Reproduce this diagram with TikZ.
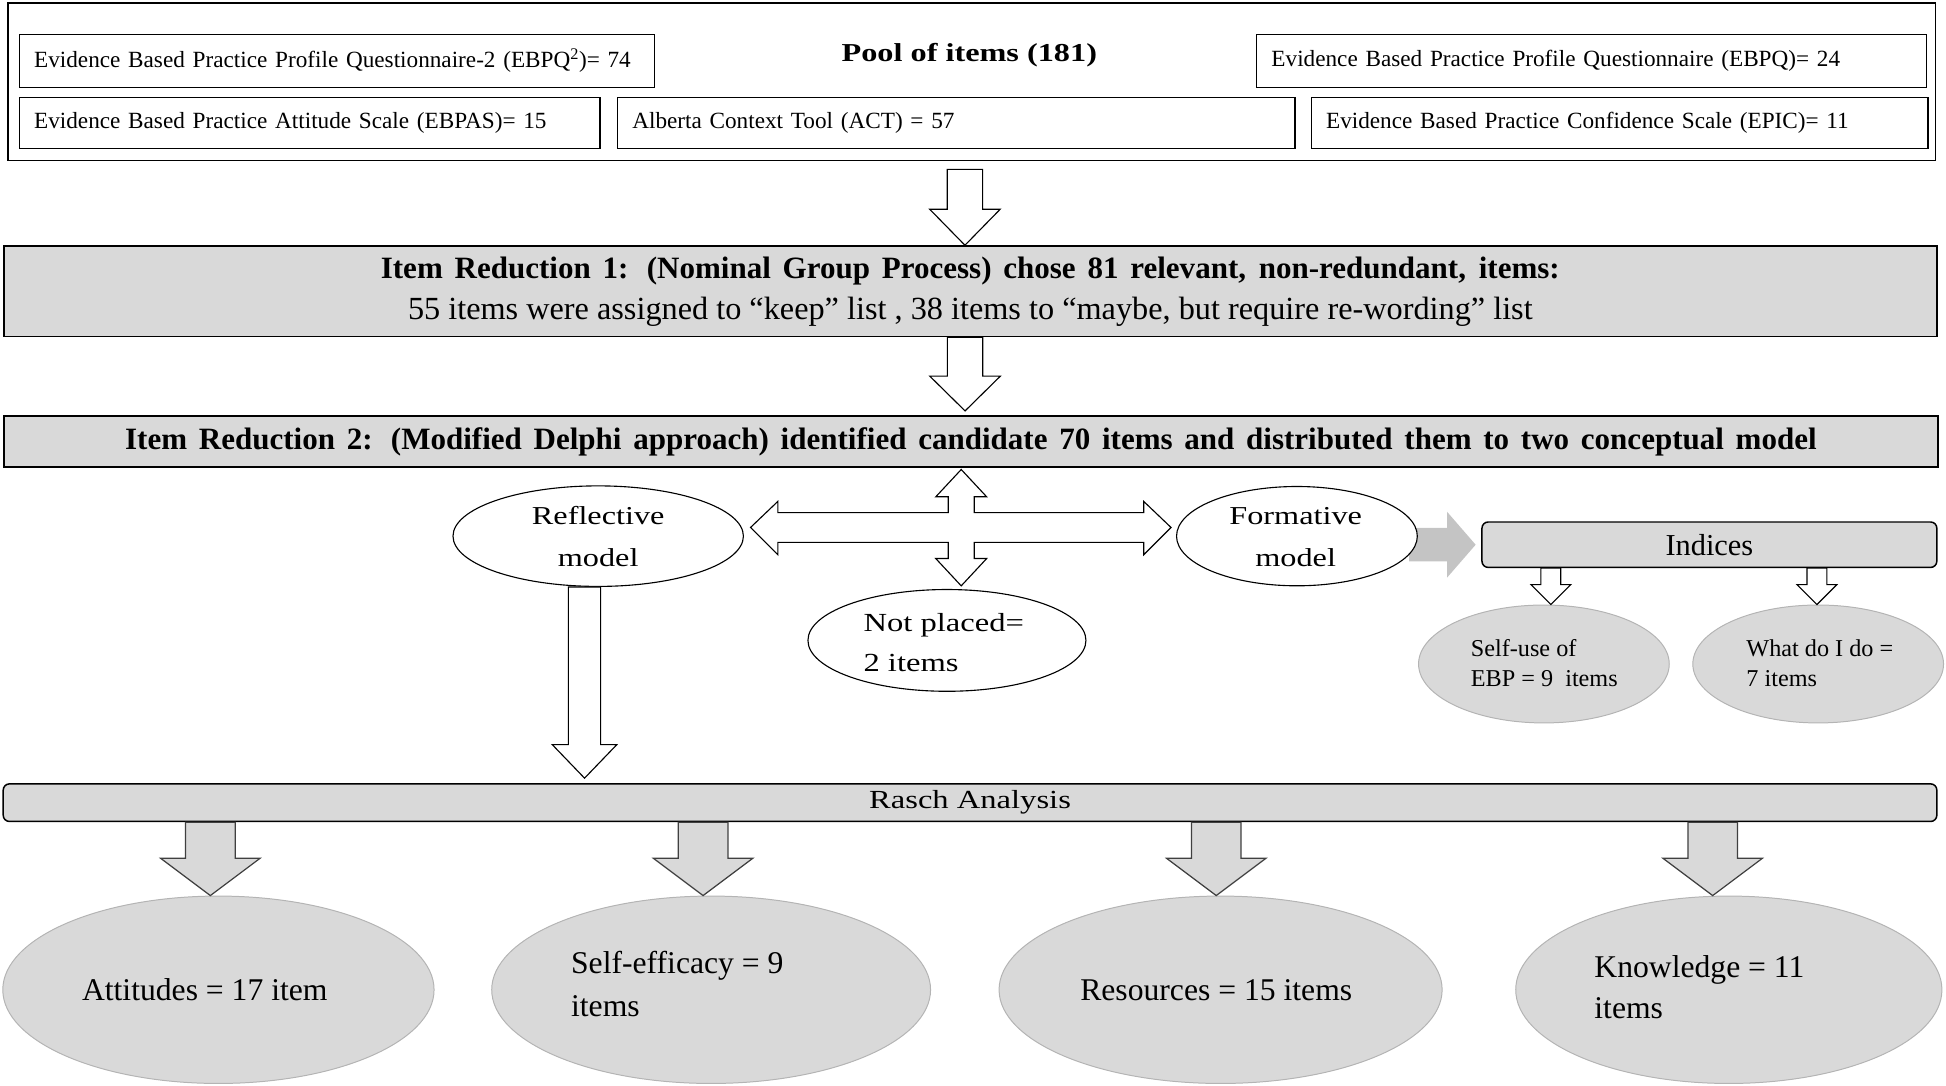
\documentclass[tikz,border=0pt]{standalone}
\usepackage{fontspec}
\setmainfont{Liberation Serif}
\newfontfamily\widefont{Liberation Serif}[FakeStretch=1.25]
\usetikzlibrary{calc,shapes.geometric,backgrounds}

\definecolor{boxgray}{HTML}{D9D9D9}
\definecolor{rimgray}{HTML}{B4B4B4}
\definecolor{arrowgray}{HTML}{C4C4C4}
\definecolor{edgegray}{HTML}{404040}

\newcommand{\fsz}[2]{\fontsize{#1}{#2}\selectfont}

% block arrow pointing down: style, top point, tip point, shaft half width, head half width, head depth
\newcommand{\downblock}[6]{%
  \draw[#1] let \p1=(#2), \p2=(#3) in
    (\x1-#4,\y1) -- (\x1+#4,\y1) -- (\x1+#4,\y2+#6) -- (\x1+#5,\y2+#6)
    -- (\x1,\y2) -- (\x1-#5,\y2+#6) -- (\x1-#4,\y2+#6) -- cycle;}

\tikzset{
  srcbox/.style={draw, line width=1pt, anchor=north west, align=left,
    inner xsep=12pt, inner ysep=0pt, font=\fsz{18.7}{21}},
  stagebox/.style={draw, line width=1.2pt, fill=boxgray, anchor=north west, inner sep=0pt},
  barbox/.style={stagebox, rounded corners=5pt},
  plainoval/.style={draw, fill=white, ellipse, line width=0.9pt, inner sep=0pt},
  grayoval/.style={draw=rimgray, fill=boxgray, ellipse, line width=0.8pt, inner sep=0pt},
  ovaltext/.style={inner sep=0pt, align=center},
  whitearrow/.style={draw, fill=white, line width=0.9pt},
  grayarrow/.style={draw=edgegray, fill=boxgray, line width=1pt},
}

\begin{document}
\begin{tikzpicture}[x=1pt, y=-1pt]
\useasboundingbox (0,0) rectangle (1568,875);

% pool of items
\node[draw, line width=1pt, anchor=north west, minimum width=1553pt, minimum height=127pt, inner sep=0pt] (pool) at (6,2) {};
\node[anchor=base, font=\widefont\bfseries\fsz{20.8}{24}] (pooltitle) at (781,49.7) {Pool of items (181)};
\node[srcbox, text width=488pt, minimum height=43pt] (ebpq2) at (15,27) {Evidence Based Practice Profile Questionnaire-2 (EBPQ\textsuperscript{2})= 74};
\node[srcbox, text width=516pt, minimum height=43pt] (ebpq) at (1012,27) {Evidence Based Practice Profile Questionnaire (EBPQ)= 24};
\node[srcbox, text width=444pt, minimum height=41pt] (ebpas) at (15,78) {Evidence Based Practice Attitude Scale (EBPAS)= 15};
\node[srcbox, text width=522pt, minimum height=41pt] (act) at (497,78) {Alberta Context Tool (ACT) = 57};
\node[srcbox, text width=473pt, minimum height=41pt] (epic) at (1056,78) {Evidence Based Practice Confidence Scale (EPIC)= 11};

% item reduction stages
\node[stagebox, minimum width=1557.5pt, minimum height=73pt, align=center, font=\fsz{26}{33}] (ir1) at (2.5,197.6)
  {{\bfseries\fontsize{25}{33}\selectfont\makebox[950pt][s]{Item Reduction 1: (Nominal Group Process) chose 81 relevant, non-redundant, items:}}\\
   55 items were assigned to “keep” list , 38 items to “maybe, but require re-wording” list};
\node[stagebox, minimum width=1558.5pt, minimum height=41pt, font=\bfseries\fsz{25}{28}] (ir2) at (2.5,334.6)
  {\makebox[1363pt][s]{Item Reduction 2: (Modified Delphi approach) identified candidate 70 items and distributed them to two conceptual model}};

\downblock{whitearrow}{$(pool.south)+(-5.5,6.5)$}{ir1.north}{14.25}{28.4}{29}
\downblock{whitearrow}{$(ir1.south)+(-4.25,0)$}{$(ir2.north)+(0,-3.5)$}{14.25}{28.4}{28}

% conceptual models
\node[plainoval, minimum width=234pt, minimum height=81pt] (refl) at (482,432) {};
\node[ovaltext, font=\widefont\fsz{20.8}{34}] (refl-t) at (482,432.5) {Reflective\\model};
\node[plainoval, minimum width=194pt, minimum height=80pt] (form) at (1045,432) {};
\node[ovaltext, font=\widefont\fsz{20.8}{34}] (form-t) at (1044,433) {Formative\\model};
\node[plainoval, minimum width=224pt, minimum height=82pt] (notp) at (763,516) {};
\node[ovaltext, anchor=west, align=left, font=\widefont\fsz{21}{32}] (notp-t) at (695.6,518) {Not placed=\\2 items};

\coordinate (cross) at (774.5,425);
\draw[whitearrow] let \p1=(refl.east), \p2=(form.west), \p3=(ir2.south), \p4=(notp.north), \p5=(cross) in
  (\x5,\y3-1.5) -- (\x5+20.5,\y3-23.5) -- (\x5+10.5,\y3-23.5) -- (\x5+10.5,\y5+12)
  -- (\x2-26,\y5+12) -- (\x2-26,\y5+21) -- (\x2-4,\y5) -- (\x2-26,\y5-22) -- (\x2-26,\y5-12)
  -- (\x5+10.5,\y5-12) -- (\x5+10.5,\y4+24.5) -- (\x5+20.5,\y4+24.5) -- (\x5,\y4+2.5)
  -- (\x5-20.5,\y4+24.5) -- (\x5-10.5,\y4+24.5) -- (\x5-10.5,\y5-12)
  -- (\x1+27.3,\y5-12) -- (\x1+27.3,\y5-22) -- (\x1+5.3,\y5) -- (\x1+27.3,\y5+21)
  -- (\x1+27.3,\y5+12) -- (\x5-10.5,\y5+12) -- (\x5-10.5,\y3-23.5) -- (\x5-20.5,\y3-23.5) -- cycle;

% formative indices
\node[barbox, minimum width=366.5pt, minimum height=36.6pt, font=\fsz{24.5}{28}] (indices) at (1193.5,420) {Indices};
\begin{scope}[on background layer]
  \fill[arrowgray] let \p1=(form.east), \p2=(indices.west) in
    (\x1-7,\y2+13.5) -- (\x2-27.5,\y2+13.5) -- (\x2-27.5,\y2+26.5) -- (\x2-4.5,\y2)
    -- (\x2-27.5,\y2-26.5) -- (\x2-27.5,\y2-13.5) -- (\x1-7,\y2-13.5) -- cycle;
\end{scope}
\node[grayoval, minimum width=202pt, minimum height=95pt] (selfuse) at (1244,535) {};
\node[ovaltext, anchor=west, align=left, font=\fsz{19.5}{24.7}] (selfuse-t) at (1185,534.4) {Self-use of\\EBP = 9\ \ items};
\node[grayoval, minimum width=202pt, minimum height=95pt] (whatdo) at (1465,535) {};
\node[ovaltext, anchor=west, align=left, font=\fsz{19.5}{24.7}] (whatdo-t) at (1407,534.4) {What do I do =\\7 items};
\foreach \o/\dx in {selfuse/5.6, whatdo/-1}
  \downblock{whitearrow}{$(\o.north |- indices.south)+(\dx,0)$}{\o.north}{8}{16}{16};

% rasch analysis
\node[barbox, minimum width=1558pt, minimum height=30.3pt, font=\widefont\fsz{21}{24}] (rasch) at (2,631) {Rasch Analysis};
\downblock{whitearrow}{$(refl.south)+(-11,0)$}{$(rasch.north)+(0,-4)$}{13}{26}{27}

\node[grayoval, minimum width=347.5pt, minimum height=151pt] (att) at (176,797.5) {};
\node[ovaltext, font=\fsz{25.5}{34}] (att-t) at (165,797.7) {Attitudes = 17 item};
\node[grayoval, minimum width=353.6pt, minimum height=151pt] (eff) at (573,797.5) {};
\node[ovaltext, anchor=west, align=left, font=\fsz{25.5}{34.3}] (eff-t) at (460,793) {Self-efficacy = 9\\items};
\node[grayoval, minimum width=357pt, minimum height=151pt] (res) at (983.5,797.5) {};
\node[ovaltext, font=\fsz{25.5}{34}] (res-t) at (980,797.5) {Resources = 15 items};
\node[grayoval, minimum width=343.4pt, minimum height=151pt] (know) at (1393,797.5) {};
\node[ovaltext, anchor=west, align=left, font=\fsz{25.5}{33}] (know-t) at (1284.5,795.5) {Knowledge = 11\\items};
\foreach \o/\dx in {att/-6.5, eff/-6.5, res/-3.5, know/-13}
  \downblock{grayarrow}{$(\o.north |- rasch.south)+(\dx,0)$}{\o.north}{20}{40}{30};
\end{tikzpicture}
\end{document}
